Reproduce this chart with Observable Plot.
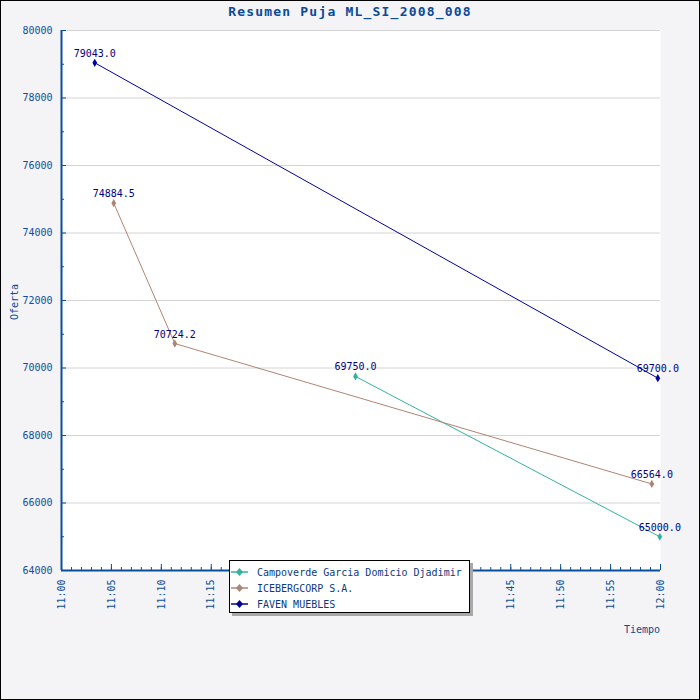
<!DOCTYPE html>
<html><head><meta charset="utf-8">
<script src="https://cdn.jsdelivr.net/npm/d3@7"></script>
<script src="https://cdn.jsdelivr.net/npm/@observablehq/plot@0.6"></script>
<style>
body{margin:0;background:#fff}
#chart{position:relative;width:700px;height:700px;background:#f4f4f6;overflow:hidden;font-family:"DejaVu Sans Mono",monospace}
#chart > svg{position:absolute;left:0;top:0}
#border{position:absolute;left:0;top:0;width:698px;height:698px;border:1px solid #000;pointer-events:none}
#title{position:absolute;left:0;top:4px;width:700px;text-align:center;font-size:13px;font-weight:bold;letter-spacing:1.2px;color:#0a4a96}
#ylab{position:absolute;left:14px;top:302px;font-size:10px;color:#0a4a96;transform:translate(-50%,-50%) rotate(-90deg);white-space:nowrap}
#xlab{position:absolute;right:40px;top:624px;font-size:10px;color:#0a4a96}
#legend{position:absolute;left:229px;top:560px;width:239px;height:51px;background:#fff;border:1px solid #000;box-shadow:3px 3px 0 #a8a8a8;font-size:10px;color:#0a3a80}
.row{position:absolute;left:0;height:14px;display:flex;align-items:center;white-space:nowrap}
#chart .row svg{position:static;margin-left:1px;margin-right:9px;flex:none}
</style></head><body>
<div id="chart">
<div id="title">Resumen Puja ML_SI_2008_008</div>
<div id="ylab">Oferta</div>
<div id="xlab">Tiempo</div>
<div id="legend"></div>
<div id="border"></div>
</div>
<script>
const series = ["Campoverde Garcia Domicio Djadimir", "ICEBERGCORP S.A.", "FAVEN MUEBLES"];
const colors = ["#33b39e", "#b08474", "#0000a0"];
const campoverdeTimes = ["11:29:27", "11:59:56"];
const campoverdeBids = [69750.0, 65000.0];
const icebergTimes = ["11:05:14", "11:11:21", "11:59:08"];
const icebergBids = [74884.5, 70724.2, 66564.0];
const favenTimes = ["11:03:20", "11:59:44"];
const favenBids = [79043.0, 69700.0];
const yTicks = [64000, 66000, 68000, 70000, 72000, 74000, 76000, 78000, 80000];
const yMinorTicks = [65000, 67000, 69000, 71000, 73000, 75000, 77000, 79000];
const xTickLabels = ["11:00","11:05","11:10","11:15","11:20","11:25","11:30","11:35","11:40","11:45","11:50","11:55","12:00"];

const axisColor = "#0a4f9c";
function parseT(s) {
  const p = s.split(":").map(Number);
  return new Date(Date.UTC(2008, 0, 1, p[0], p[1], p[2] || 0));
}
const xTicks = xTickLabels.map(parseT);
const t0 = xTicks[0], t1 = xTicks[xTicks.length - 1];
const xMinorTicks = d3.utcMinute.range(t0, d3.utcMinute.offset(t1, 1));

const data = [];
[[campoverdeTimes, campoverdeBids], [icebergTimes, icebergBids], [favenTimes, favenBids]].forEach(([ts, bs], i) => {
  ts.forEach((t, j) => data.push({series: series[i], time: parseT(t), bid: bs[j]}));
});
const fmt = d3.format(".1f");
const labelOf = new Map(xTicks.map((d, i) => [+d, xTickLabels[i]]));

const chart = Plot.plot({
  width: 700, height: 700,
  marginLeft: 61, marginRight: 40, marginTop: 30, marginBottom: 130,
  style: {background: "transparent", fontFamily: "DejaVu Sans Mono", fontSize: "10px", overflow: "visible"},
  x: {type: "utc", domain: [t0, t1], label: null},
  y: {domain: [64000, 80000], label: null},
  color: {domain: series, range: colors},
  marks: [
    Plot.frame({fill: "white", stroke: "none"}),
    Plot.gridY(yTicks, {stroke: "#d4d4d4", strokeOpacity: 1}),
    Plot.axisY(yMinorTicks, {tickSize: -3, fill: "none", stroke: axisColor}),
    Plot.axisY(yTicks, {tickSize: -5, fill: "none", stroke: axisColor}),
    Plot.axisY(yTicks, {tickSize: 0, tickPadding: 9, fill: axisColor, tickFormat: d => String(d)}),
    Plot.axisX(xMinorTicks, {tickSize: -3, fill: "none", stroke: axisColor}),
    Plot.axisX(xTicks, {tickSize: -6, fill: "none", stroke: axisColor}),
    Plot.axisX(xTicks, {tickSize: 0, tickPadding: 9, tickRotate: -90, fill: axisColor, tickFormat: d => labelOf.get(+d)}),
    Plot.ruleX([t0], {stroke: axisColor, strokeWidth: 2}),
    Plot.ruleY([64000], {stroke: axisColor, strokeWidth: 2}),
    Plot.line(data, {x: "time", y: "bid", z: "series", stroke: "series", strokeWidth: 1}),
    Plot.dot(data, {x: "time", y: "bid", fill: "series", symbol: "diamond", r: 2.5}),
    Plot.text(data, {x: "time", y: "bid", text: d => fmt(d.bid), fill: "#000080", dy: -6, lineAnchor: "bottom"})
  ]
});
const root = document.getElementById("chart");
root.insertBefore(chart, document.getElementById("title"));

const legend = document.getElementById("legend");
series.forEach((s, i) => {
  const row = document.createElement("div");
  row.className = "row";
  row.style.top = (4 + i * 16) + "px";
  row.innerHTML = `<svg width="17" height="10"><line x1="0" y1="5" x2="17" y2="5" stroke="${colors[i]}" stroke-width="1.5"/><path d="M8.5,1 L12,5 L8.5,9 L5,5Z" fill="${colors[i]}"/></svg><span>${s}</span>`;
  legend.appendChild(row);
});
</script>
</body></html>
